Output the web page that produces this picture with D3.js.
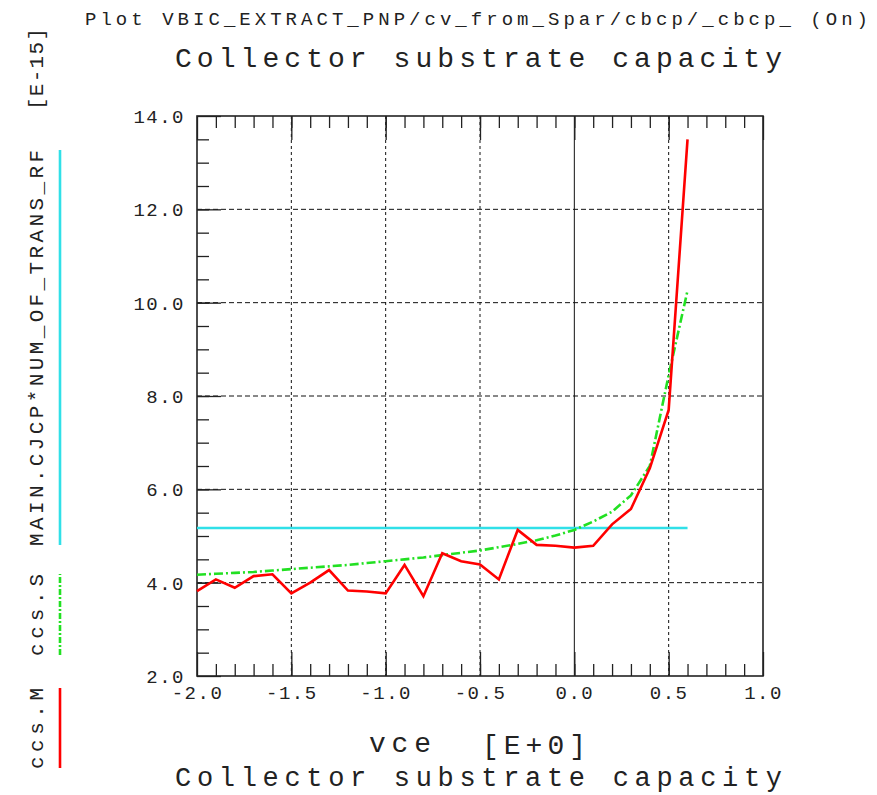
<!DOCTYPE html>
<html>
<head>
<meta charset="utf-8">
<script src="https://cdn.jsdelivr.net/npm/d3@7"></script>
<style>
  body { margin: 0; background: #fff; }
  svg { display: block; }
  text { font-family: "Liberation Mono", "DejaVu Sans Mono", monospace; fill: #222; }
</style>
</head>
<body>
<script>
// measured / simulated collector-substrate capacitance vs vce
var vce = [-2.0, -1.9, -1.8, -1.7, -1.6, -1.5, -1.4, -1.3, -1.2, -1.1, -1.0,
           -0.9, -0.8, -0.7, -0.6, -0.5, -0.4, -0.3, -0.2, -0.1, 0.0,
            0.1,  0.2,  0.3,  0.4,  0.5,  0.6];
var ccsM = [3.82, 4.07, 3.89, 4.14, 4.18, 3.77, 4.00, 4.27, 3.83, 3.81, 3.77,
            4.38, 3.71, 4.63, 4.46, 4.39, 4.07, 5.13, 4.81, 4.79, 4.75,
            4.79, 5.25, 5.58, 6.45, 7.70, 13.50];
var ccsS = [4.17, 4.19, 4.21, 4.23, 4.26, 4.29, 4.32, 4.35, 4.38, 4.42, 4.46,
            4.50, 4.54, 4.59, 4.64, 4.69, 4.76, 4.83, 4.91, 5.01, 5.13,
            5.31, 5.52, 5.87, 6.50, 8.45, 10.26];
var cjcpVce = [-2.0, 0.6];
var cjcpVal = [5.17, 5.17];

var xTicks = [-2.0, -1.5, -1.0, -0.5, 0.0, 0.5, 1.0];
var yTicks = [2.0, 4.0, 6.0, 8.0, 10.0, 12.0, 14.0];

var W = 877, H = 795;
var plotL = 197, plotR = 763, plotT = 116, plotB = 676;

var x = d3.scaleLinear().domain([-2, 1]).range([plotL, plotR]);
var y = d3.scaleLinear().domain([2, 14]).range([plotB, plotT]);

var svg = d3.select("body").append("svg")
    .attr("width", W)
    .attr("height", H);

var fmt = function(d) { return d.toFixed(1); };

// grid
var grid = svg.append("g").attr("class", "grid");
grid.selectAll(".vgrid")
    .data(xTicks.filter(function(d) { return d > -2 && d < 1; }))
  .enter().append("line")
    .attr("x1", function(d) { return x(d); })
    .attr("x2", function(d) { return x(d); })
    .attr("y1", plotT)
    .attr("y2", plotB)
    .attr("stroke", "#111")
    .attr("stroke-width", 1)
    .attr("stroke-dasharray", function(d) { return d === 0 ? null : "3,3"; });
grid.selectAll(".hgrid")
    .data(yTicks.filter(function(d) { return d > 2 && d < 14; }))
  .enter().append("line")
    .attr("x1", plotL)
    .attr("x2", plotR)
    .attr("y1", function(d) { return y(d); })
    .attr("y2", function(d) { return y(d); })
    .attr("stroke", "#111")
    .attr("stroke-width", 1)
    .attr("stroke-dasharray", "5,3");

// minor + major ticks (inward)
var xMinor = d3.range(-19, 10).map(function(i) { return i / 10; });
var yMinor = d3.range(5, 28).map(function(i) { return i / 2; });

svg.append("g")
    .attr("transform", "translate(0," + plotB + ")")
    .call(d3.axisBottom(x).tickValues(xMinor).tickSize(-12).tickFormat(""));
svg.append("g")
    .attr("transform", "translate(0," + plotT + ")")
    .call(d3.axisTop(x).tickValues(xMinor).tickSize(-12).tickFormat(""));
svg.append("g")
    .attr("transform", "translate(" + plotL + ",0)")
    .call(d3.axisLeft(y).tickValues(yMinor).tickSize(-12).tickFormat(""));

var xAxis = svg.append("g")
    .attr("class", "x--axis")
    .attr("transform", "translate(0," + plotB + ")")
    .call(d3.axisBottom(x).tickValues(xTicks).tickSize(-24).tickPadding(0).tickFormat(fmt));
svg.append("g")
    .attr("transform", "translate(0," + plotT + ")")
    .call(d3.axisTop(x).tickValues(xTicks).tickSize(-24).tickFormat(""));
var yAxis = svg.append("g")
    .attr("class", "y--axis")
    .attr("transform", "translate(" + plotL + ",0)")
    .call(d3.axisLeft(y).tickValues(yTicks).tickSize(-24).tickPadding(0).tickFormat(fmt));

svg.selectAll(".domain").remove();
svg.selectAll(".tick line").attr("stroke", "#222").attr("stroke-width", 1.3);
svg.selectAll(".x--axis text, .y--axis text")
    .style("font-family", '"Liberation Mono", monospace')
    .attr("font-size", 19)
    .attr("letter-spacing", 1.5)
    .attr("fill", "#222");
xAxis.selectAll("text").attr("y", 23).attr("dy", "0");
yAxis.selectAll("text").attr("x", -12).attr("dy", "0.35em");

// frame
svg.append("rect")
    .attr("x", plotL)
    .attr("y", plotT)
    .attr("width", plotR - plotL)
    .attr("height", plotB - plotT)
    .attr("fill", "none")
    .attr("stroke", "#222")
    .attr("stroke-width", 1.6);

// series
var line = d3.line()
    .x(function(d) { return x(d[0]); })
    .y(function(d) { return y(d[1]); });

svg.append("path")
    .datum(d3.zip(cjcpVce, cjcpVal))
    .attr("d", line)
    .attr("fill", "none")
    .attr("stroke", "#30e0e8")
    .attr("stroke-width", 2.4);

svg.append("path")
    .datum(d3.zip(vce, ccsS))
    .attr("d", line)
    .attr("fill", "none")
    .attr("stroke", "#22e022")
    .attr("stroke-width", 2.6)
    .attr("stroke-dasharray", "9,3,2,3");

svg.append("path")
    .datum(d3.zip(vce, ccsM))
    .attr("d", line)
    .attr("fill", "none")
    .attr("stroke", "#ff0000")
    .attr("stroke-width", 2.6);

// titles
svg.append("text")
    .attr("x", 85).attr("y", 25)
    .attr("font-size", 19)
    .attr("textLength", 783).attr("lengthAdjust", "spacing")
    .text("Plot VBIC_EXTRACT_PNP/cv_from_Spar/cbcp/_cbcp_ (On)");
svg.append("text")
    .attr("x", 175).attr("y", 67)
    .attr("font-size", 28)
    .attr("textLength", 607).attr("lengthAdjust", "spacing")
    .text("Collector substrate capacity");
svg.append("text")
    .attr("x", 175).attr("y", 786)
    .attr("font-size", 27)
    .attr("textLength", 607).attr("lengthAdjust", "spacing")
    .text("Collector substrate capacity");
svg.append("text")
    .attr("x", 369).attr("y", 752)
    .attr("font-size", 28)
    .attr("textLength", 62).attr("lengthAdjust", "spacing")
    .text("vce");
svg.append("text")
    .attr("x", 482).attr("y", 754)
    .attr("font-size", 28)
    .attr("textLength", 104).attr("lengthAdjust", "spacing")
    .text("[E+0]");

// left legend (rotated)
var legend = [
  { label: "[E-15]", y0: 110, y1: 28, color: null },
  { label: "MAIN.CJCP*NUM_OF_TRANS_RF", y0: 546, y1: 150, color: "#30e0e8", dash: null },
  { label: "ccs.S", y0: 656, y1: 574, color: "#22e022", dash: "6,2,2,2" },
  { label: "ccs.M", y0: 769, y1: 688, color: "#ff0000", dash: null }
];
legend.forEach(function(d) {
  svg.append("text")
      .attr("transform", "translate(43," + d.y0 + ") rotate(-90)")
      .attr("font-size", 21)
      .attr("textLength", d.y0 - d.y1).attr("lengthAdjust", "spacing")
      .text(d.label);
  if (d.color) {
    svg.append("line")
        .attr("x1", 60).attr("x2", 60)
        .attr("y1", d.y0 - 1).attr("y2", d.y1)
        .attr("stroke", d.color)
        .attr("stroke-width", 2.6)
        .attr("stroke-dasharray", d.dash);
  }
});
</script>
</body>
</html>
